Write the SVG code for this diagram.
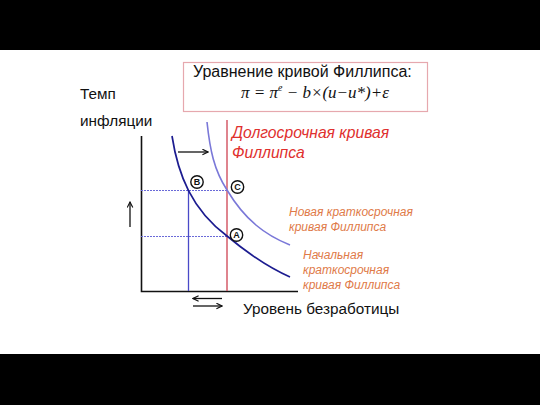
<svg xmlns="http://www.w3.org/2000/svg" width="540" height="405" viewBox="0 0 540 405">
<defs>
<style>
.sans{font-family:"Liberation Sans",Arial,sans-serif}
.lbl{font-size:15.3px;fill:#111}
.red{font-size:15.7px;fill:#e0302e;font-style:italic}
.org{font-size:12px;fill:#e07a48;font-style:italic}
.circ{fill:#fff;stroke:#111;stroke-width:1.4}
.ct{font-family:"Liberation Sans",Arial,sans-serif;font-size:9px;font-weight:bold;fill:#111;text-anchor:middle}
.ar{stroke:#111;stroke-width:1.3;fill:none}
</style>
<marker id="ah" viewBox="0 0 10 10" refX="9" refY="5" markerWidth="7" markerHeight="7" orient="auto" markerUnits="userSpaceOnUse">
<path d="M1,1 L9,5 L1,9" fill="none" stroke="#111" stroke-width="1.6"/>
</marker>
</defs>
<rect x="0" y="0" width="540" height="405" fill="#fff"/>
<rect x="0" y="0" width="540" height="50" fill="#000"/>
<rect x="0" y="354" width="540" height="51" fill="#000"/>

<g id="formula-box">
<rect x="183.5" y="62.5" width="244" height="49" fill="#fff" stroke="#e6a8ae" stroke-width="1.2"/>
<text class="sans" x="193" y="77" font-size="16" fill="#111">Уравнение кривой Филлипса:</text>
<text x="241" y="98" font-family="'Liberation Serif','Times New Roman',serif" font-size="17" font-style="italic" fill="#111">π = π<tspan font-size="10" dy="-7">e</tspan><tspan dy="7"> − b×(u−u*)+ε</tspan></text>
</g>

<g id="y-label">
<text class="sans lbl" x="80" y="99">Темп</text>
<text class="sans lbl" x="80" y="126">инфляции</text>
</g>

<g id="axes">
<path d="M141.5,136 V291.5 H298" fill="none" stroke="#111" stroke-width="1.6"/>
</g>

<g id="guides">
<line x1="141" y1="190.5" x2="227" y2="190.5" stroke="#6a6ad8" stroke-width="1.2" stroke-dasharray="2,1"/>
<line x1="141" y1="236.5" x2="227" y2="236.5" stroke="#6a6ad8" stroke-width="1.2" stroke-dasharray="2,1"/>
<line x1="188.5" y1="190" x2="188.5" y2="291" stroke="#4a4ac8" stroke-width="1.3"/>
</g>

<g id="lrpc">
<line x1="227" y1="120" x2="227" y2="291" stroke="#d2505e" stroke-width="1.4"/>
<text class="sans red" x="232" y="138">Долгосрочная кривая</text>
<text class="sans red" x="232" y="158">Филлипса</text>
</g>

<g id="srpc-new">
<path d="M207,122 C210,150 214,170 227,190 C245,220 265,235 290,245" fill="none" stroke="#7a78d8" stroke-width="1.6"/>
<text class="sans org" x="289" y="216">Новая краткосрочная</text>
<text class="sans org" x="289" y="231">кривая Филлипса</text>
</g>

<g id="srpc-initial">
<path d="M172,136 C178,175 192,210 227,236 C245,251 265,266 290,277" fill="none" stroke="#1c1c90" stroke-width="1.7"/>
<text class="sans org" x="303" y="259">Начальная</text>
<text class="sans org" x="303" y="274">краткосрочная</text>
<text class="sans org" x="303" y="289">кривая Филлипса</text>
</g>

<g id="point-B">
<circle class="circ" cx="197" cy="182" r="6.2"/>
<text class="ct" x="197" y="185.2">B</text>
</g>
<g id="point-C">
<circle class="circ" cx="237.5" cy="187" r="6.2"/>
<text class="ct" x="237.5" y="190.2">C</text>
</g>
<g id="point-A">
<circle class="circ" cx="236.5" cy="235" r="6.2"/>
<text class="ct" x="236.5" y="238.2">A</text>
</g>

<g id="connectors">
<line class="ar" x1="178" y1="152" x2="208" y2="152" marker-end="url(#ah)"/>
<line class="ar" x1="130" y1="227" x2="130" y2="202" marker-end="url(#ah)"/>
<line class="ar" x1="222" y1="298.5" x2="193" y2="298.5" marker-end="url(#ah)"/>
<line class="ar" x1="193" y1="306" x2="222" y2="306" marker-end="url(#ah)"/>
</g>

<g id="x-label">
<text class="sans lbl" x="243" y="314">Уровень безработицы</text>
</g>
</svg>
